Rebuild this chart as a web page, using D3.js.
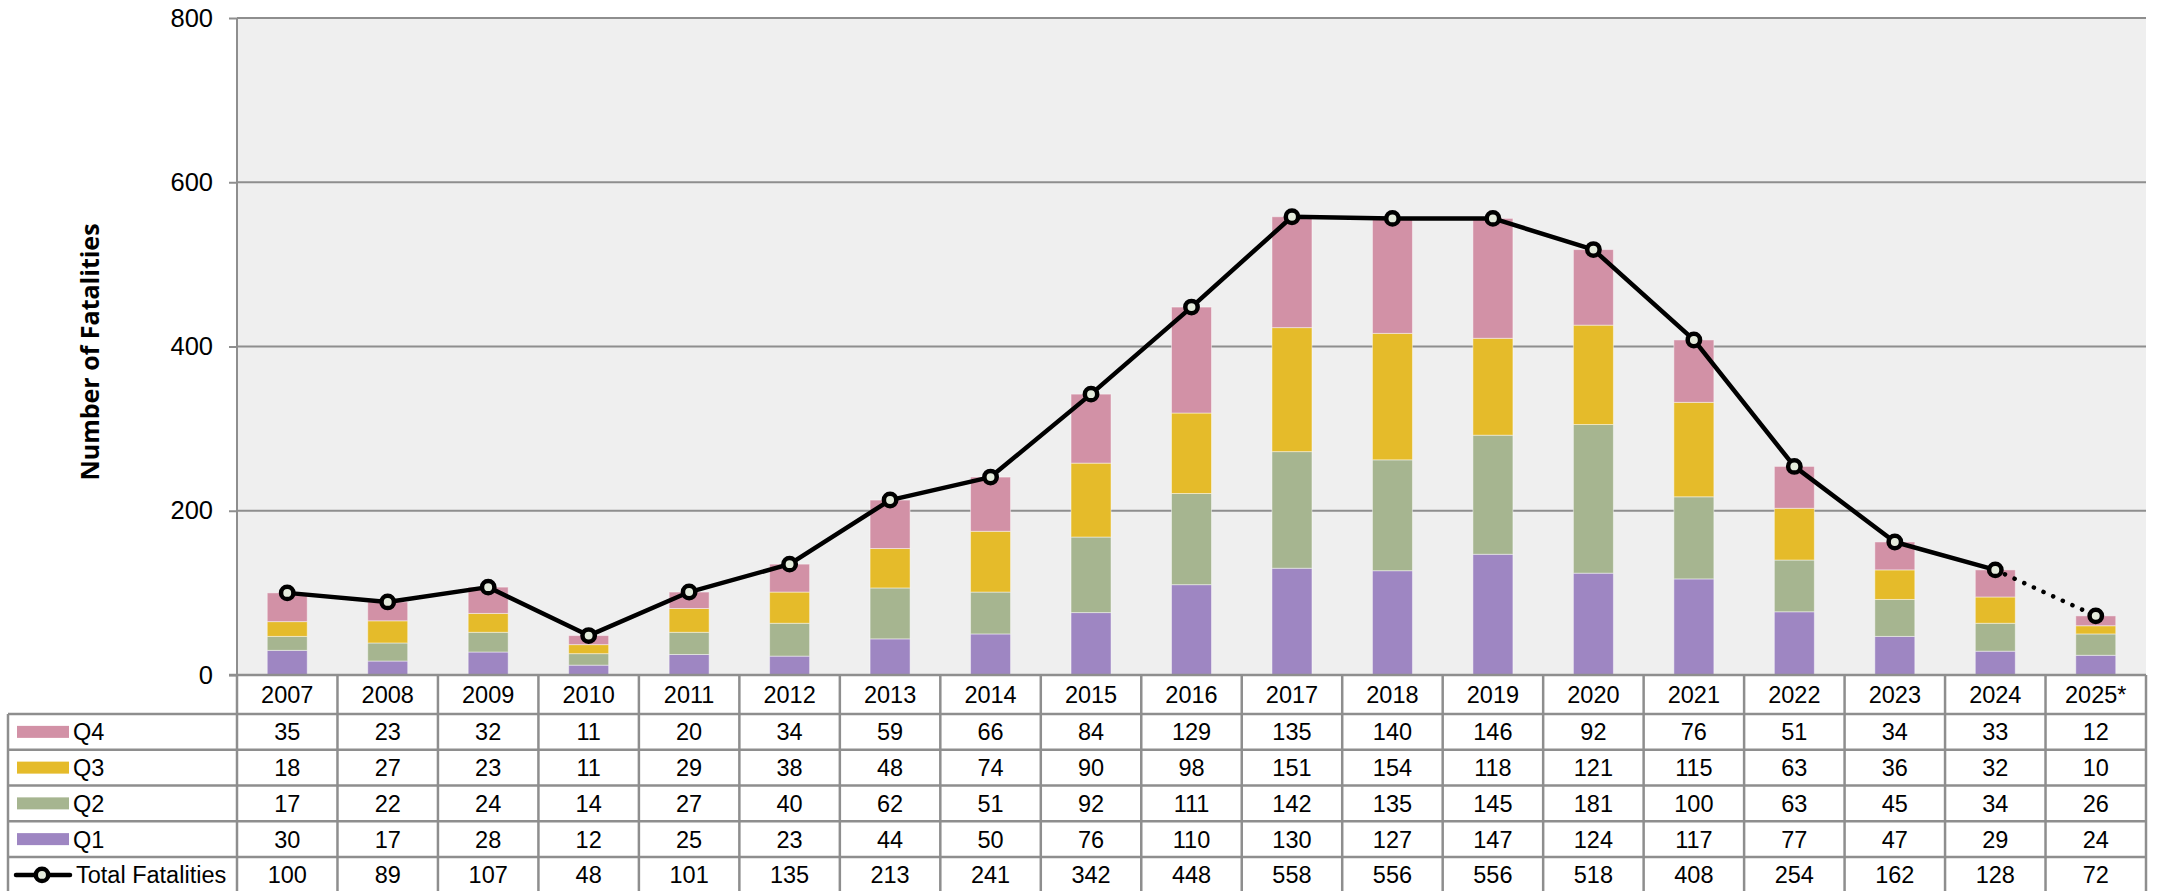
<!DOCTYPE html>
<html><head><meta charset="utf-8">
<script src="https://cdn.jsdelivr.net/npm/d3@7"></script>
<style>
html,body{margin:0;padding:0;background:#fff;}
svg{display:block;font-family:"Liberation Sans",Arial,sans-serif;}
</style></head>
<body><svg id="c" width="2162" height="891"></svg>
<script>
const years = ["2007","2008","2009","2010","2011","2012","2013","2014","2015","2016","2017","2018","2019","2020","2021","2022","2023","2024","2025*"];
const q1 = [30,17,28,12,25,23,44,50,76,110,130,127,147,124,117,77,47,29,24];
const q2 = [17,22,24,14,27,40,62,51,92,111,142,135,145,181,100,63,45,34,26];
const q3 = [18,27,23,11,29,38,48,74,90,98,151,154,118,121,115,63,36,32,10];
const q4 = [35,23,32,11,20,34,59,66,84,129,135,140,146,92,76,51,34,33,12];
const totals = [100,89,107,48,101,135,213,241,342,448,558,556,556,518,408,254,162,128,72];
const seriesKeys = ["Q1","Q2","Q3","Q4"];
const seriesColors = {Q1:"#9e86c2",Q2:"#a6b590",Q3:"#e5bb2a",Q4:"#d291a6"};
const yTicks = [0,200,400,600,800];
const yTitle = "Number of Fatalities";
const totalLabel = "Total Fatalities";

const svg = d3.select("#c");
const L = 237, R = 2146, T = 18, B = 675;
const grid = "#8e8e8e";
const fs = 23.5;
const x = d3.scaleBand().domain(years).range([L, R]).padding(0);
const y = d3.scaleLinear().domain([0, 800]).range([B, T]);
const barW = 40;

// plot background
svg.append("rect").attr("x", L).attr("y", T).attr("width", R - L).attr("height", B - T).attr("fill", "#efefef");

// gridlines
svg.append("g").selectAll("line").data(yTicks.filter(d => d > 0)).join("line")
  .attr("x1", L).attr("x2", R).attr("y1", d => y(d)).attr("y2", d => y(d))
  .attr("stroke", grid).attr("stroke-width", 2);

// y axis
const ya = svg.append("g").attr("transform", `translate(${L},0)`)
  .call(d3.axisLeft(y).tickValues(yTicks).tickSize(8).tickPadding(16).tickFormat(d3.format("d")));
ya.select(".domain").attr("stroke", grid).attr("stroke-width", 2).attr("d", `M0,${T}V${B}`);
ya.selectAll(".tick line").attr("stroke", grid).attr("stroke-width", 2);
ya.selectAll(".tick text").attr("font-size", 25.5).attr("fill", "#000")
  .attr("font-family", "Liberation Sans, Arial, sans-serif");

// title
svg.append("text").attr("transform", "translate(99,352) rotate(-90)")
  .attr("text-anchor", "middle").attr("font-family", "Open Sans, sans-serif")
  .attr("font-weight", "bold").attr("font-size", 25).attr("fill", "#000").text(yTitle);

// stacked bars
const rows = years.map((yr, i) => ({year: yr, Q1: q1[i], Q2: q2[i], Q3: q3[i], Q4: q4[i]}));
const stacked = d3.stack().keys(seriesKeys)(rows);
svg.append("g").selectAll("g").data(stacked).join("g").attr("fill", d => seriesColors[d.key])
  .selectAll("rect").data(d => d).join("rect")
  .attr("x", d => x(d.data.year) + x.bandwidth() / 2 - barW / 2)
  .attr("width", barW)
  .attr("y", d => y(d[1]))
  .attr("height", d => y(d[0]) - y(d[1]))
  .attr("stroke", "rgba(255,255,255,0.45)").attr("stroke-width", 1);

// line
const cx = (i) => x(years[i]) + x.bandwidth() / 2;
const pts = totals.map((v, i) => [cx(i), y(v)]);
const line = d3.line();
svg.append("path").attr("d", line(pts.slice(0, pts.length - 1)))
  .attr("fill", "none").attr("stroke", "#000").attr("stroke-width", 4.5).attr("stroke-linejoin", "round");
svg.append("path").attr("d", line(pts.slice(pts.length - 2)))
  .attr("fill", "none").attr("stroke", "#000").attr("stroke-width", 4.5)
  .attr("stroke-linecap", "round").attr("stroke-dasharray", "0.1,10.5");
svg.append("g").selectAll("circle").data(pts).join("circle")
  .attr("cx", d => d[0]).attr("cy", d => d[1]).attr("r", 6.2)
  .attr("fill", "#e4ebdc").attr("stroke", "#000").attr("stroke-width", 4.5);

// table
const tL = 8, hdrB = 714, rowH = 35.75;
const tableRows = [
  {label: "Q4", vals: q4, color: seriesColors.Q4},
  {label: "Q3", vals: q3, color: seriesColors.Q3},
  {label: "Q2", vals: q2, color: seriesColors.Q2},
  {label: "Q1", vals: q1, color: seriesColors.Q1},
  {label: totalLabel, vals: totals, color: null}
];
const tb = svg.append("g");
tb.selectAll("text.yr").data(years).join("text").attr("class", "yr")
  .attr("x", d => x(d) + x.bandwidth() / 2).attr("y", (B + hdrB) / 2 + 8.5)
  .attr("text-anchor", "middle").attr("font-size", fs).attr("fill", "#000").text(d => d);
const hLines = d3.range(tableRows.length + 1).map(i => hdrB + i * rowH);
tb.selectAll("line.h").data(hLines).join("line").attr("class", "h")
  .attr("x1", tL).attr("x2", R).attr("y1", d => d).attr("y2", d => d)
  .attr("stroke", grid).attr("stroke-width", 2.5);
tb.append("line").attr("x1", L - 8).attr("x2", R).attr("y1", B).attr("y2", B)
  .attr("stroke", grid).attr("stroke-width", 2.5);
const vx = years.map(d => x(d)).concat([R]);
tb.selectAll("line.v").data(vx).join("line").attr("class", "v")
  .attr("x1", d => d).attr("x2", d => d).attr("y1", B).attr("y2", 900)
  .attr("stroke", grid).attr("stroke-width", 2.5);
tb.append("line").attr("x1", tL).attr("x2", tL).attr("y1", hdrB).attr("y2", 900)
  .attr("stroke", grid).attr("stroke-width", 2.5);
tableRows.forEach((r, ri) => {
  const top = hdrB + ri * rowH, mid = top + rowH / 2;
  const g = tb.append("g");
  g.selectAll("text").data(r.vals).join("text")
    .attr("x", (d, i) => cx(i)).attr("y", mid + 8.5)
    .attr("text-anchor", "middle").attr("font-size", fs).attr("fill", "#000").text(d => d);
  if (r.color) {
    g.append("rect").attr("x", 17).attr("y", mid - 6).attr("width", 52).attr("height", 12).attr("fill", r.color);
    g.append("text").attr("x", 73).attr("y", mid + 8.5).attr("font-size", fs).attr("fill", "#000").text(r.label);
  } else {
    g.append("line").attr("x1", 16).attr("x2", 70).attr("y1", mid).attr("y2", mid)
      .attr("stroke", "#000").attr("stroke-width", 4.5).attr("stroke-linecap", "round");
    g.append("circle").attr("cx", 42).attr("cy", mid).attr("r", 6.2)
      .attr("fill", "#e4ebdc").attr("stroke", "#000").attr("stroke-width", 4.5);
    g.append("text").attr("x", 76).attr("y", mid + 8.5).attr("font-size", fs).attr("fill", "#000").text(r.label);
  }
});
</script></body></html>
